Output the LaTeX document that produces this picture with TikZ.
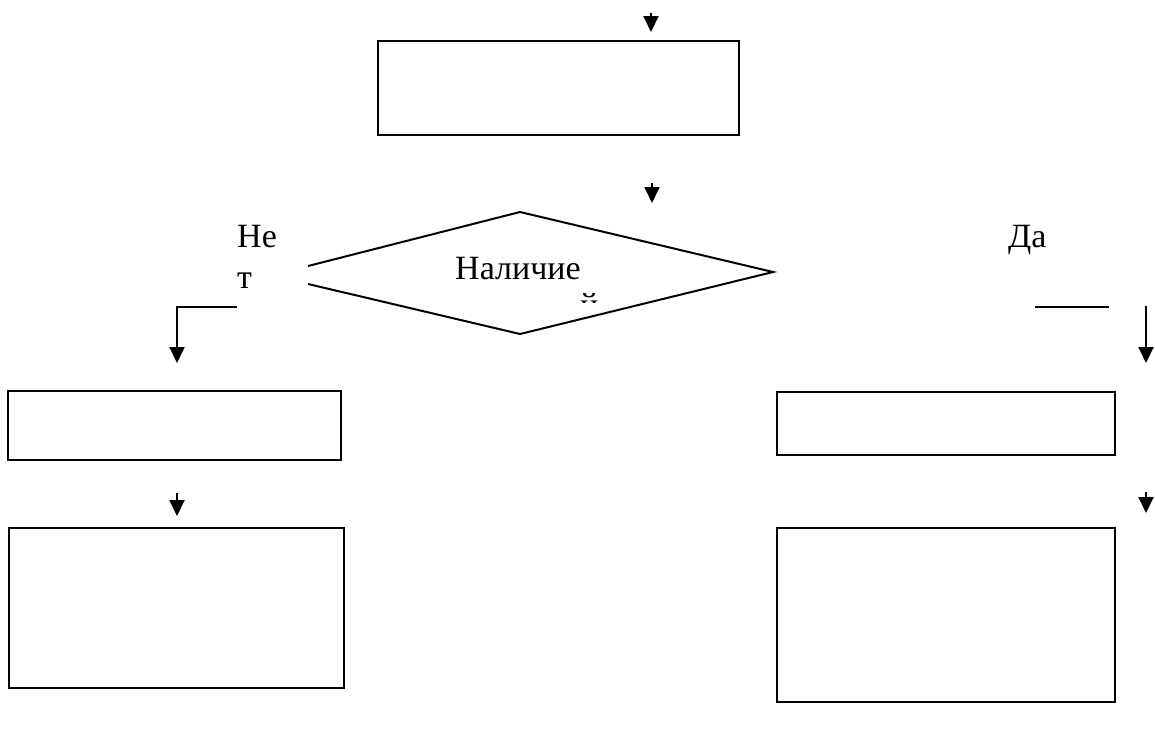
\documentclass[tikz,border=0pt]{standalone}
\usepackage{fontspec}
\setmainfont{Liberation Serif}
\usetikzlibrary{arrows.meta}
\begin{document}
\begin{tikzpicture}[x=1pt,y=-1pt,
  box/.style={draw,line width=2pt,inner sep=0pt},
  conn/.style={line width=2pt},
  arr/.style={line width=2pt,-{Triangle[width=15pt,length=16pt]}},
  lbl/.style={font=\fontsize{34}{34}\selectfont,inner sep=0pt,anchor=base west}]
\useasboundingbox (0,0) rectangle (1155,729);
% boxes
\draw[box] (378,41) rectangle (739,135);
\draw[box] (8,391) rectangle (341,460);
\draw[box] (777,392) rectangle (1115,455);
\draw[box] (9,528) rectangle (344,688);
\draw[box] (777,528) rectangle (1115,702);
% diamond (broken at left vertex)
\coordinate (dT) at (520,212);
\coordinate (dB) at (520,334);
\coordinate (dR) at (773,272);
\coordinate (dLu) at (308,266);
\coordinate (dLl) at (308,284);
\draw[conn,line join=miter] (dLu) -- (dT) -- (dR) -- (dB) -- (dLl);
% arrows
\coordinate (a1s) at (651,13); \coordinate (a1e) at (651,32);
\draw[arr] (a1s) -- (a1e);
\coordinate (a2s) at (652,183); \coordinate (a2e) at (652,203);
\draw[arr] (a2s) -- (a2e);
\coordinate (l1) at (237,307); \coordinate (l2) at (177,307); \coordinate (l3) at (177,363);
\draw[arr] (l1) -- (l2) -- (l3);
\coordinate (r1) at (1035,307); \coordinate (r2) at (1109,307);
\draw[conn] (r1) -- (r2);
\coordinate (r3) at (1146,306); \coordinate (r4) at (1146,363);
\draw[arr] (r3) -- (r4);
\coordinate (a3s) at (177,493); \coordinate (a3e) at (177,516);
\draw[arr] (a3s) -- (a3e);
\coordinate (a4s) at (1146,492); \coordinate (a4e) at (1146,513);
\draw[arr] (a4s) -- (a4e);
% labels
\node[lbl] (ne) at (237,247) {Не};
\node[lbl] (t) at (237,288) {т};
\node[lbl] (nal) at (455,279) {Наличие};
\node[lbl] (da) at (1008,247) {Да};
\begin{scope}
\clip (576,293) rectangle (602,302);
\node[lbl] (j) at (580,316) {й};
\end{scope}
\end{tikzpicture}
\end{document}
